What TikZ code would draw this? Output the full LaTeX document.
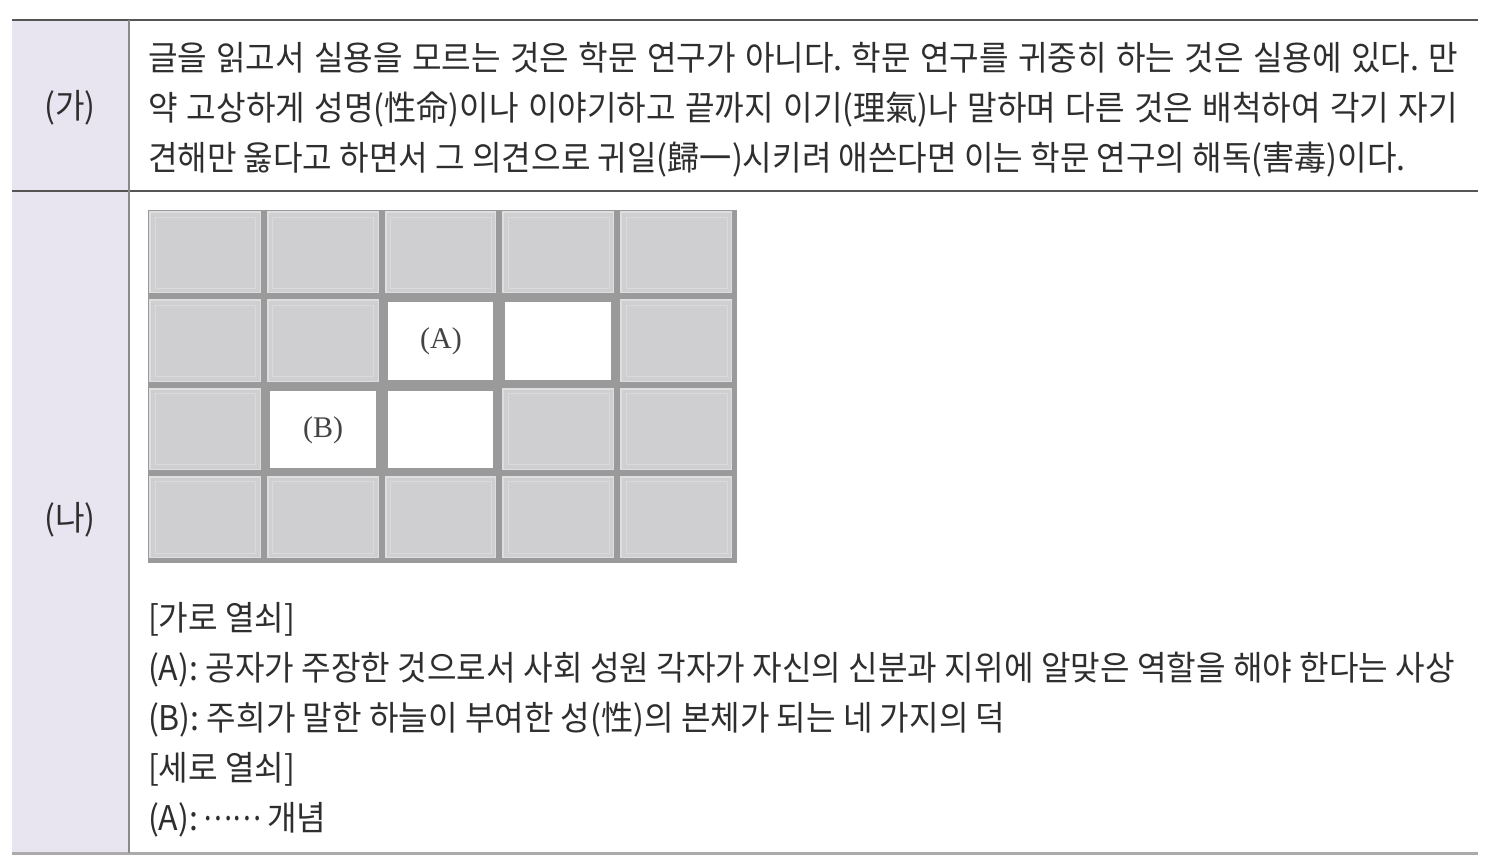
\documentclass[tikz,border=0pt]{standalone}
\usepackage{fontspec}
\setmainfont{Liberation Serif}
\newfontfamily\kr[FakeStretch=0.945]{Noto Sans CJK KR}
\frenchspacing
\definecolor{labfill}{HTML}{E8E5F1}
\definecolor{txtc}{HTML}{2E2E2E}
\definecolor{ruledark}{HTML}{555555}
\definecolor{rulelight}{HTML}{ABABAB}
\definecolor{divc}{HTML}{8A8A8A}
\definecolor{celldark}{HTML}{9A9A9A}
\definecolor{cellhi}{HTML}{DEDEE0}
\definecolor{cellfill}{HTML}{CFCFD1}
\definecolor{cellline}{HTML}{DADADC}
\definecolor{labc}{HTML}{444444}
\begin{document}
\begin{tikzpicture}[x=1pt,y=-1pt,
  txt/.style={inner sep=0pt,outer sep=0pt,text=txtc,font=\kr\fontsize{34}{40}\selectfont,anchor=base west},
  lab/.style={inner sep=0pt,text=txtc,font=\kr\fontsize{34}{40}\selectfont},
  cellab/.style={inner sep=0pt,text=labc,font=\fontsize{30}{34}\selectfont}]
\useasboundingbox (0,0) rectangle (1487,862);
\fill[white] (0,0) rectangle (1487,862);
% left label column
\fill[labfill] (12,20) rectangle (128,853);
% rules
\draw[ruledark,line width=2pt] (12,20) -- (1478,20);
\draw[ruledark,line width=2pt] (12,191) -- (1478,191);
\draw[rulelight,line width=3pt] (12,853) -- (1478,853);
\draw[divc,line width=2.5pt] (129,20) -- (129,853);
% labels
\node[lab] (ga) at (70,108) {(가)};
\node[lab] (na) at (70,520) {(나)};
% passage (ga)
\node[txt] (g1) at (148,70) {\makebox[1310pt][s]{글을 읽고서 실용을 모르는 것은 학문 연구가 아니다. 학문 연구를 귀중히 하는 것은 실용에 있다. 만}};
\node[txt] (g2) at (148,120) {\makebox[1310pt][s]{약 고상하게 성명(性命)이나 이야기하고 끝까지 이기(理氣)나 말하며 다른 것은 배척하여 각기 자기}};
\node[txt] (g3) at (148,170) {견해만 옳다고 하면서 그 의견으로 귀일(歸一)시키려 애쓴다면 이는 학문 연구의 해독(害毒)이다.};
% grid
\fill[celldark] (148,210) rectangle (737,563);
\foreach \i in {0,...,4}{
  \foreach \j in {0,...,3}{
    \pgfmathsetmacro{\xa}{148+\i*117.8}
    \pgfmathsetmacro{\xb}{148+(\i+1)*117.8}
    \pgfmathsetmacro{\ya}{210+\j*88.25}
    \pgfmathsetmacro{\yb}{210+(\j+1)*88.25}
    \fill[cellhi] (\xa+1,\ya+1) rectangle (\xb-5,\yb-5);
    \fill[cellfill] (\xa+3,\ya+3) rectangle (\xb-6,\yb-6);
    \draw[cellline,line width=1pt] (\xa+7,\ya+7) rectangle (\xb-10,\yb-10);
  }
}
\foreach \i/\j in {2/1,3/1,1/2,2/2}{
  \pgfmathsetmacro{\xa}{148+\i*117.8}
  \pgfmathsetmacro{\xb}{148+(\i+1)*117.8}
  \pgfmathsetmacro{\ya}{210+\j*88.25}
  \pgfmathsetmacro{\yb}{210+(\j+1)*88.25}
  \fill[celldark] (\xa,\ya) rectangle (\xb,\yb);
  \fill[white] (\xa+4,\ya+4) rectangle (\xb-8,\yb-7);
}
\node[cellab] (cA) at (441,341) {(A)};
\node[cellab] (cB) at (323,430) {(B)};
% clues
\node[txt] (h0) at (148,630) {[가로 열쇠]};
\node[txt] (h1) at (148,680) {\makebox[1307pt][s]{(A): 공자가 주장한 것으로서 사회 성원 각자가 자신의 신분과 지위에 알맞은 역할을 해야 한다는 사상}};
\node[txt] (h2) at (148,730) {(B): 주희가 말한 하늘이 부여한 성(性)의 본체가 되는 네 가지의 덕};
\node[txt] (v0) at (148,780) {[세로 열쇠]};
\node[txt] (v1) at (148,830) {(A):\,\raisebox{10pt}{\scalebox{0.85}[1]{……}}\,개념};
\end{tikzpicture}
\end{document}
